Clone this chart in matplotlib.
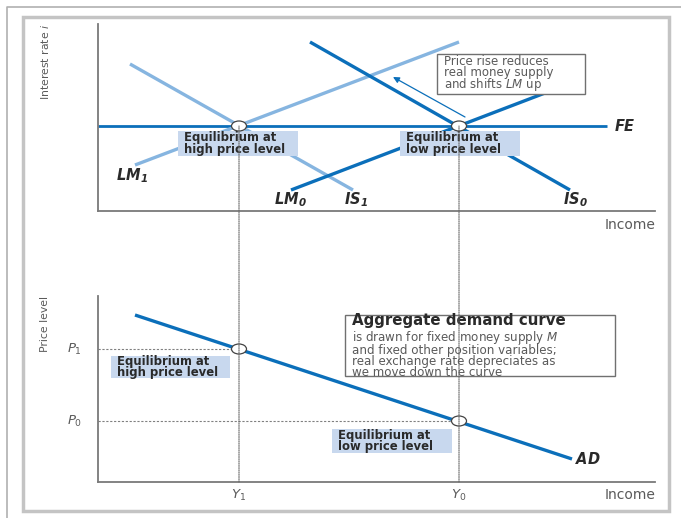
import matplotlib
matplotlib.use("Agg")
from matplotlib import pyplot as plt
from matplotlib.patches import Ellipse, Rectangle, ConnectionPatch

plt.rcParams['mathtext.fontset'] = 'custom'
plt.rcParams['mathtext.rm'] = 'DejaVu Sans'
plt.rcParams['mathtext.it'] = 'DejaVu Sans:italic'
plt.rcParams['mathtext.bf'] = 'DejaVu Sans:bold:italic'

# --- values (units: income / interest / price, arbitrary) ---
i_fe = 85
fe_x = [0, 509]
lm1_x, lm1_y = [37, 361], [46, 169]
is1_x, is1_y = [32, 255], [147, 21]
lm0_x, lm0_y = [193, 447], [21, 118]
is0_x, is0_y = [212, 472], [169, 21]
Y1, Y0 = 141, 361
ad_x, ad_y = [37, 474], [167, 23]
P1, P0 = 133, 61

dark = '#0b6fba'
light = '#86b5e0'
fill = '#c8d8ee'
txt = '#2a2a2a'
grey = '#5a5a5a'

fig = plt.figure(figsize=(6.81, 5.18), dpi=100)
W, H = 681, 518

# background frame
bg = fig.add_axes([0, 0, 1, 1])
bg.set_xlim(0, W)
bg.set_ylim(H, 0)
bg.axis('off')
bg.plot([7, 7, W], [H, 7, 7], color='#b0b0b0', lw=1.2)
bg.add_patch(Rectangle((23, 17), 646, 494, fill=False, ec='#c4c4c4', lw=2.5))

ax1 = fig.add_axes([98 / W, 1 - 211 / H, 557 / W, 187 / H])
ax2 = fig.add_axes([98 / W, 1 - 482 / H, 557 / W, 186 / H])
for ax, h in ((ax1, 187), (ax2, 186)):
    ax.set_xlim(0, 557)
    ax.set_ylim(0, h)
    ax.patch.set_alpha(0)
    for s in ('top', 'right'):
        ax.spines[s].set_visible(False)
    for s in ('left', 'bottom'):
        ax.spines[s].set_color('#7a7a7a')
        ax.spines[s].set_linewidth(1.3)
    ax.set_xticks([])
    ax.set_yticks([])

eq_font = dict(fontsize=8.4, fontweight='bold', color=txt, linespacing=0.85, zorder=4)
narrow = ['DejaVu Sans Condensed', 'Liberation Sans Narrow', 'DejaVu Sans']

# --- top panel: IS-LM-FE ---
ax1.plot(fe_x, [i_fe, i_fe], color=dark, lw=2.0, solid_capstyle='butt')
ax1.plot(lm1_x, lm1_y, color=light, lw=2.4, solid_capstyle='butt')
ax1.plot(is1_x, is1_y, color=light, lw=2.4, solid_capstyle='butt')
ax1.plot(lm0_x, lm0_y, color=dark, lw=2.4, solid_capstyle='butt')
ax1.plot(is0_x, is0_y, color=dark, lw=2.4, solid_capstyle='butt')

ax1.annotate('', xy=(295, 134), xytext=(367, 94),
             arrowprops=dict(arrowstyle='-|>', color=dark, lw=0.9,
                             mutation_scale=9, shrinkA=0, shrinkB=0))

# equilibrium boxes (top)
ax1.add_patch(Rectangle((80, 55), 120, 25, fc=fill, ec='none', zorder=3))
ax1.text(86, 67.5, 'Equilibrium at\nhigh price level', ha='left', va='center', **eq_font)
ax1.add_patch(Rectangle((302, 55), 120, 25, fc=fill, ec='none', zorder=3))
ax1.text(308, 67.5, 'Equilibrium at\nlow price level', ha='left', va='center', **eq_font)

ax1.add_patch(Rectangle((339, 117), 148, 40, fc='white', ec='#707070', lw=1.0, zorder=3))
ax1.text(346, 137, 'Price rise reduces\nreal money supply\nand shifts $\\mathit{LM}$ up',
         ha='left', va='center', fontsize=8.5, color=grey, linespacing=0.8, zorder=4)

for x in (Y1, Y0):
    ax1.add_patch(Ellipse((x, i_fe), 15, 10, fc='white', ec='#444444', lw=0.9, zorder=6))

lab = dict(fontsize=10.5, color=txt, clip_on=False)
ax1.text(34, 35, r'$\mathbf{LM_1}$', ha='center', va='center', **lab)
ax1.text(192, 11, r'$\mathbf{LM_0}$', ha='center', va='center', **lab)
ax1.text(258, 11, r'$\mathbf{IS_1}$', ha='center', va='center', **lab)
ax1.text(477, 11, r'$\mathbf{IS_0}$', ha='center', va='center', **lab)
ax1.text(516, i_fe, r'$\mathbf{FE}$', ha='left', va='center', **lab)
ax1.text(557, -14, 'Income', ha='right', va='center', fontsize=10, color=grey, clip_on=False)
ax1.text(-53, 187, 'Interest rate $i$', rotation=90, ha='center', va='top',
         fontsize=7.8, color=grey, family=narrow, clip_on=False)

# --- bottom panel: AD ---
ax2.plot(ad_x, ad_y, color=dark, lw=2.4, solid_capstyle='butt')
ax2.plot([0, Y1], [P1, P1], color='#808080', lw=0.8, ls=(0, (2, 1.5)))
ax2.plot([0, Y0], [P0, P0], color='#808080', lw=0.8, ls=(0, (2, 1.5)))

for x in (Y1, Y0):
    con = ConnectionPatch(xyA=(x, 0), coordsA=ax2.transData,
                          xyB=(x, i_fe), coordsB=ax1.transData,
                          color='#666666', lw=0.8, ls=(0, (1, 1)), zorder=1)
    fig.add_artist(con)

ax2.add_patch(Rectangle((13, 104), 119, 22, fc=fill, ec='none', zorder=3))
ax2.text(19, 115, 'Equilibrium at\nhigh price level', ha='left', va='center', **eq_font)
ax2.add_patch(Rectangle((234, 29), 120, 24, fc=fill, ec='none', zorder=3))
ax2.text(240, 41, 'Equilibrium at\nlow price level', ha='left', va='center', **eq_font)

ax2.add_patch(Rectangle((247, 106), 270, 61, fc='white', ec='#707070', lw=1.0, zorder=3))
ax2.text(254, 161.5, 'Aggregate demand curve', ha='left', va='center',
         fontsize=10.8, fontweight='bold', color=txt, zorder=4)
ax2.text(254, 152.5, 'is drawn for fixed money supply $M$\nand fixed other position variables;\n'
         'real exchange rate depreciates as\nwe move down the curve',
         ha='left', va='top', fontsize=8.6, color=grey, linespacing=0.78, zorder=4)

for x, p in ((Y1, P1), (Y0, P0)):
    ax2.add_patch(Ellipse((x, p), 15, 10, fc='white', ec='#444444', lw=0.9, zorder=6))

ax2.text(477, 23, r'$\mathbf{AD}$', ha='left', va='center', **lab)
ax2.text(-16, P1, '$P_1$', ha='right', va='center', fontsize=9.5, color=grey, clip_on=False)
ax2.text(-16, P0, '$P_0$', ha='right', va='center', fontsize=9.5, color=grey, clip_on=False)
ax2.text(Y1, -13, '$Y_1$', ha='center', va='center', fontsize=9.5, color=grey, clip_on=False)
ax2.text(Y0, -13, '$Y_0$', ha='center', va='center', fontsize=9.5, color=grey, clip_on=False)
ax2.text(557, -13, 'Income', ha='right', va='center', fontsize=10, color=grey, clip_on=False)
ax2.text(-53, 186, 'Price level', rotation=90, ha='center', va='top',
         fontsize=7.8, color=grey, family=narrow, clip_on=False)

fig.savefig('out.png', dpi=100)
